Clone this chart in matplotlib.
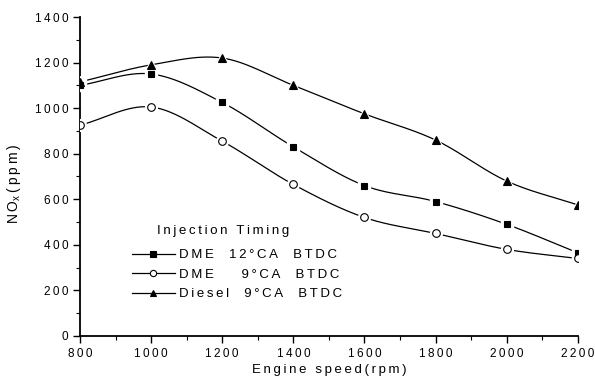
import numpy as np
import matplotlib.pyplot as plt
from matplotlib.ticker import MultipleLocator, FuncFormatter

# ===== data =====
speed = [800, 1000, 1200, 1400, 1600, 1800, 2000, 2200]
dme_12 = [1100, 1150, 1025, 830, 660, 590, 490, 365]
dme_9 = [925, 1005, 855, 665, 520, 450, 380, 340]
diesel_9 = [1115, 1190, 1220, 1100, 975, 860, 680, 575]

labels = ["DME  12°CA  BTDC", "DME    9°CA  BTDC", "Diesel  9°CA  BTDC"]

plt.rcParams["font.family"] = ["Liberation Sans", "DejaVu Sans"]
plt.rcParams["font.size"] = 9


def spaced(s):
    # the original print uses wide letter spacing
    return "\u2009".join(s)


def smooth(x, y, n=30):
    # Catmull-Rom curve through the points, for the drawn line only
    x = np.asarray(x, float)
    y = np.asarray(y, float)
    px = np.concatenate([[2 * x[0] - x[1]], x, [2 * x[-1] - x[-2]]])
    py = np.concatenate([[2 * y[0] - y[1]], y, [2 * y[-1] - y[-2]]])
    xs, ys = [], []
    t = np.linspace(0, 1, n)
    for i in range(1, len(px) - 2):
        for p, out in ((px, xs), (py, ys)):
            p0, p1, p2, p3 = p[i - 1], p[i], p[i + 1], p[i + 2]
            out.extend(0.5 * (2 * p1 + (-p0 + p2) * t
                              + (2 * p0 - 5 * p1 + 4 * p2 - p3) * t ** 2
                              + (-p0 + 3 * p1 - 3 * p2 + p3) * t ** 3))
    return xs, ys


fig = plt.figure(figsize=(5.95, 3.87), dpi=100)
ax = fig.add_axes([0.1345, 0.132, 0.8365, 0.824])

styles = [("s", "black", 5), ("o", "white", 5.5), ("^", "black", 6)]
for ys, (mk, fc, ms), lab in zip([dme_12, dme_9, diesel_9], styles, labels):
    sx, sy = smooth(speed, ys)
    ax.plot(sx, sy, color="black", lw=0.9, zorder=2)
    ax.plot(speed, ys, ls="none", marker=mk, ms=ms + 3, mfc="white", mec="white", zorder=3)
    ax.plot(speed, ys, ls="none", marker=mk, ms=ms, mfc=fc, mec="black", mew=0.8, zorder=4)
    ax.plot([], [], color="black", lw=0.9, marker=mk, ms=ms - 1, mfc=fc, mec="black",
            mew=0.8, label=spaced(lab))

ax.set_xlim(800, 2200)
ax.set_ylim(0, 1400)
ax.xaxis.set_major_locator(MultipleLocator(200))
ax.xaxis.set_minor_locator(MultipleLocator(100))
ax.yaxis.set_major_locator(MultipleLocator(200))
ax.yaxis.set_minor_locator(MultipleLocator(100))
fmt = FuncFormatter(lambda v, p: spaced(f"{v:.0f}"))
ax.xaxis.set_major_formatter(fmt)
ax.yaxis.set_major_formatter(fmt)
ax.spines["top"].set_visible(False)
ax.spines["right"].set_visible(False)
ax.spines["left"].set_linewidth(1.3)
ax.spines["bottom"].set_linewidth(1.3)
ax.tick_params(which="major", direction="out", length=5, width=1, labelsize=8.5)
ax.tick_params(which="minor", direction="out", length=3, width=0.8)

ax.set_xlabel(spaced("Engine speed(rpm)"), fontsize=9.5, labelpad=3)
ax.set_ylabel("N\u2009O$_\\mathregular{x}$\u2009(\u2009p\u2009p\u2009m\u2009)", fontsize=10)
ax.yaxis.set_label_coords(-0.114, 0.476)

leg = ax.legend(loc="lower left", bbox_to_anchor=(0.08, 0.075), frameon=False,
                handlelength=3.3, handletextpad=0.3, labelspacing=0.55, fontsize=9.5)
ax.text(0.155, 0.33, spaced("Injection Timing"), transform=ax.transAxes,
        fontsize=9.5, va="center", ha="left")

fig.savefig("out.png", dpi=100)
